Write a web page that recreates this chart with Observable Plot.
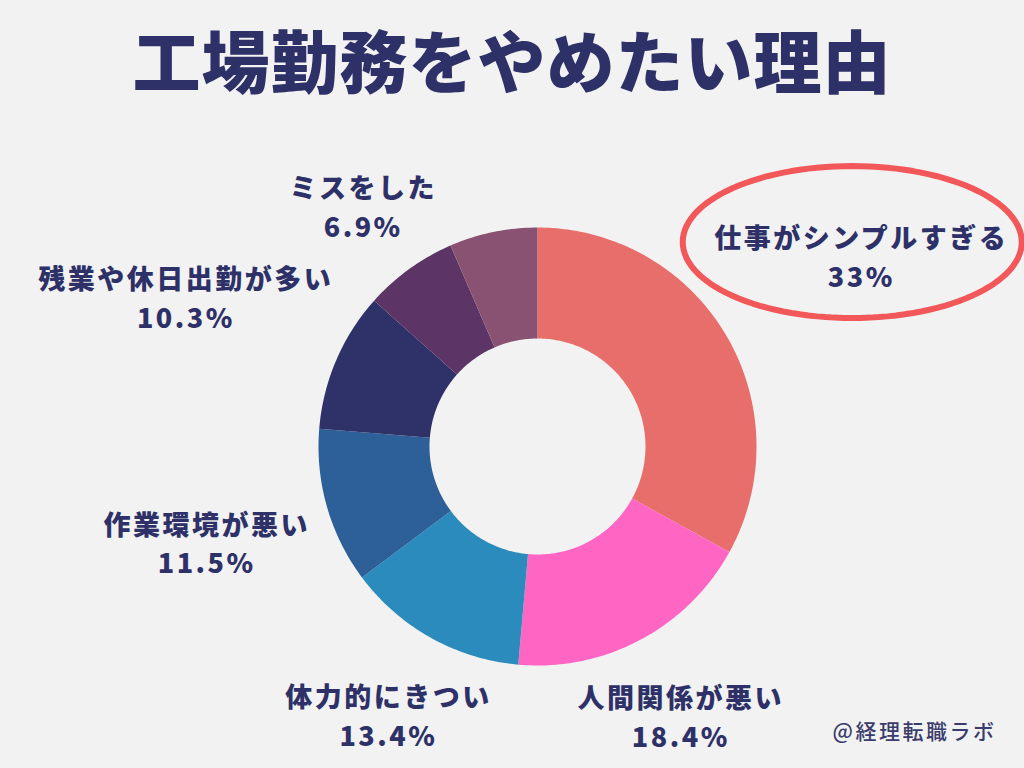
<!DOCTYPE html>
<html><head><meta charset="utf-8">
<script src="https://cdn.jsdelivr.net/npm/d3@7"></script>
<script src="https://cdn.jsdelivr.net/npm/@observablehq/plot@0.6"></script>
<style>
body{margin:0;background:#f2f2f2;width:1024px;height:768px;overflow:hidden;font-family:"Noto Sans CJK JP",sans-serif}
#title{height:116px;display:flex;align-items:center;justify-content:center;font-size:68px;font-weight:900;color:#2e3168;letter-spacing:1px}
#chart svg{display:block}
#chart svg text{letter-spacing:2.5px}
</style></head><body>
<div id="title">工場勤務をやめたい理由</div>
<div id="chart"></div>
<script>
// Data (clockwise from 12 o'clock)
const categories = ["仕事がシンプルすぎる","人間関係が悪い","体力的にきつい","作業環境が悪い","残業や休日出勤が多い","ミスをした","その他"];
const values = [33, 18.4, 13.4, 11.5, 10.3, 6.9, 6.5];
const colors = ["#e86e6b","#ff66c4","#2b8bbd","#2d5f98","#2f3268","#5c3566","#8a5272"];
const hiddenLabels = ["その他"];
const highlighted = ["仕事がシンプルすぎる"];
const credit = ["@経理転職ラボ"];

// Layout constants
const W = 1024, H = 652, CX = 537, CY = 330;
const R_OUT = 219, R_IN = 108;
const FONT = 27, LS = 2.5, INK = "#2e3168";

const total = d3.sum(values);
let acc = 0;
const slices = categories.map((c, i) => {
  const a0 = acc / total * 2 * Math.PI; acc += values[i];
  const a1 = acc / total * 2 * Math.PI;
  return {c, v: values[i], a0, a1};
});

const ring = [];
for (const s of slices) {
  const n = Math.max(2, Math.ceil((s.a1 - s.a0) / (Math.PI / 180)));
  for (let k = 0; k <= n; k++) { const a = s.a0 + (s.a1 - s.a0) * k / n; ring.push({c: s.c, x: R_OUT * Math.sin(a), y: R_OUT * Math.cos(a)}); }
  for (let k = n; k >= 0; k--) { const a = s.a0 + (s.a1 - s.a0) * k / n; ring.push({c: s.c, x: R_IN * Math.sin(a), y: R_IN * Math.cos(a)}); }
}

const ctx = document.createElement("canvas").getContext("2d");
ctx.font = `700 ${FONT}px "Noto Sans CJK JP"`;
const textW = s => ctx.measureText(s).width + LS * [...s].length;

const labels = slices.filter(s => !hiddenLabels.includes(s.c)).map(s => {
  const m = (s.a0 + s.a1) / 2;
  const pct = `${s.v}%`;
  const w = Math.max(textW(s.c), textW(pct));
  const d = 240 + (w / 2) * Math.abs(Math.sin(m)) + 18 * Math.abs(Math.cos(m));
  return {c: s.c, text: s.c + "\n" + pct, x: d * Math.sin(m), y: d * Math.cos(m), w};
});

const ellipse = [];
for (const l of labels.filter(l => highlighted.includes(l.c))) {
  const rx = l.w / 2 + 22, ry = 76, ex = l.x - 9, ey = l.y + 13;
  for (let k = 0; k < 120; k++) { const t = k / 120 * 2 * Math.PI; ellipse.push({x: ex + rx * Math.cos(t), y: ey + ry * Math.sin(t)}); }
}

const chart = Plot.plot({
  width: W, height: H, margin: 0,
  style: {background: "transparent", fontFamily: '"Noto Sans CJK JP", sans-serif'},
  x: {domain: [-CX, W - CX], axis: null},
  y: {domain: [-(H - CY), CY], axis: null},
  color: {domain: categories, range: colors},
  marks: [
    Plot.line(ring, {x: "x", y: "y", z: "c", fill: "c", stroke: "none", curve: "linear-closed"}),
    Plot.text(labels, {x: "x", y: "y", text: "text", fontSize: FONT, fontWeight: 900, fill: INK, lineHeight: 1.44, lineAnchor: "middle"}),
    Plot.line(ellipse, {x: "x", y: "y", stroke: "#f2575a", strokeWidth: 6, curve: "linear-closed"}),
    Plot.text(credit, {text: d => d, frameAnchor: "bottom-right", dx: -28, dy: -30, fontSize: 21, fill: "#3a3d6b", fontWeight: 500})
  ]
});
document.getElementById("chart").append(chart);
</script>
</body></html>
